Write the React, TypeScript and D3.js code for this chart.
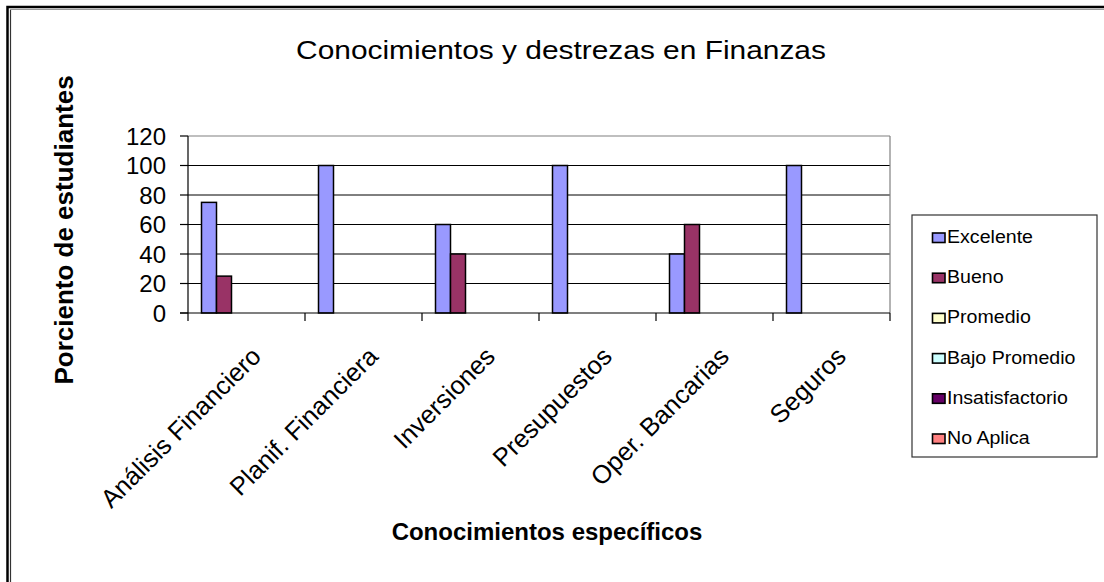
import React from "react";
import * as d3 from "d3";

const categories = [
  "Análisis Financiero",
  "Planif. Financiera",
  "Inversiones",
  "Presupuestos",
  "Oper. Bancarias",
  "Seguros",
];
const seriesNames = ["Excelente", "Bueno", "Promedio", "Bajo Promedio", "Insatisfactorio", "No Aplica"];
const seriesColors = ["#9999FF", "#993366", "#FFFFCC", "#CCFFFF", "#660066", "#FF8080"];
const excelente = [75, 100, 60, 100, 40, 100];
const bueno = [25, 0, 40, 0, 60, 0];
const promedio = [0, 0, 0, 0, 0, 0];
const bajoPromedio = [0, 0, 0, 0, 0, 0];
const insatisfactorio = [0, 0, 0, 0, 0, 0];
const noAplica = [0, 0, 0, 0, 0, 0];
const yTicks = [0, 20, 40, 60, 80, 100, 120];

const seriesValues = [excelente, bueno, promedio, bajoPromedio, insatisfactorio, noAplica];

const FONT = "'Liberation Sans', Arial, sans-serif";

export default function App() {
  const W = 1104;
  const H = 582;
  const left = 188;
  const right = 890;
  const top = 136;
  const bottom = 313;

  const x = d3.scaleBand<string>().domain(categories).range([left, right]).paddingInner(0).paddingOuter(0);
  const xs = d3.scaleBand<string>().domain(seriesNames).range([0, x.bandwidth()]).paddingInner(0).paddingOuter(0.9);
  const y = d3.scaleLinear().domain([0, 120]).range([bottom, top]);

  const boundaries = categories.map((c) => x(c) as number).concat([right]);

  return (
    <svg
      width={W}
      height={H}
      style={{ position: "absolute", left: 0, top: 0, background: "#fff" }}
      fontFamily={FONT}
    >
      <rect x={0} y={0} width={W} height={H} fill="#fff" />
      {/* outer border */}
      <rect x={7.5} y={7} width={1120} height={600} fill="none" stroke="#000" strokeWidth={2.5} />
      <line x1={10.5} y1={9.5} x2={10.5} y2={H} stroke="#333" strokeWidth={1.2} />
      <line x1={10} y1={9.5} x2={W} y2={9.5} stroke="#999" strokeWidth={1} />

      {/* title */}
      <text transform="translate(561,59) scale(1.15,1)" textAnchor="middle" fontSize={26} fill="#000">
        Conocimientos y destrezas en Finanzas
      </text>

      {/* gridlines */}
      {yTicks.filter((t) => t > 0 && t < 120).map((t) => (
        <line key={"g" + t} x1={left} x2={right} y1={y(t)} y2={y(t)} stroke="#000" strokeWidth={1} />
      ))}
      {/* plot border */}
      <line x1={left} x2={right} y1={y(120)} y2={y(120)} stroke="#808080" strokeWidth={1.2} />
      <line x1={right} x2={right} y1={top} y2={bottom} stroke="#808080" strokeWidth={1.2} />

      {/* bars */}
      {categories.map((c, ci) => (
        <g key={c} transform={`translate(${x(c)},0)`}>
          {seriesNames.map((s, si) => {
            const v = seriesValues[si][ci];
            if (!v) return null;
            return (
              <rect
                key={s}
                x={xs(s)}
                y={y(v)}
                width={xs.bandwidth()}
                height={y(0) - y(v)}
                fill={seriesColors[si]}
                stroke="#000"
                strokeWidth={1.5}
              />
            );
          })}
        </g>
      ))}

      {/* axes */}
      <line x1={left} x2={left} y1={top} y2={bottom} stroke="#000" strokeWidth={1.2} />
      <line x1={left - 8} x2={right} y1={bottom} y2={bottom} stroke="#000" strokeWidth={1.2} />
      {yTicks.map((t) => (
        <g key={"t" + t}>
          <line x1={left - 8} x2={left} y1={y(t)} y2={y(t)} stroke="#000" strokeWidth={1.2} />
          <text x={166} y={y(t)} dy="0.36em" textAnchor="end" fontSize={24} fill="#000">
            {t}
          </text>
        </g>
      ))}
      {boundaries.map((b, i) => (
        <line key={"xt" + i} x1={b} x2={b} y1={bottom} y2={bottom + 8} stroke="#000" strokeWidth={1.2} />
      ))}
      {categories.map((c) => {
        const cx = (x(c) as number) + x.bandwidth() / 2 + 16;
        const cy = bottom + 45;
        return (
          <text
            key={"l" + c}
            transform={`translate(${cx},${cy}) rotate(-45)`}
            textAnchor="end"
            fontSize={25.5}
            fill="#000"
          >
            {c}
          </text>
        );
      })}

      {/* axis titles */}
      <text x={547} y={540} textAnchor="middle" fontSize={24} fontWeight="bold" fill="#000">
        Conocimientos específicos
      </text>
      <text
        transform={`translate(73,230) rotate(-90)`}
        textAnchor="middle"
        fontSize={26}
        fontWeight="bold"
        fill="#000"
      >
        Porciento de estudiantes
      </text>

      {/* legend */}
      <rect x={912} y={215} width={185} height={242} fill="#fff" stroke="#333" strokeWidth={1.2} />
      {seriesNames.map((s, i) => {
        const by = 243 + i * 40.2;
        return (
          <g key={"lg" + s}>
            <rect x={932.5} y={by - 10} width={12.5} height={9.5} fill={seriesColors[i]} stroke="#000" strokeWidth={1.6} />
            <text transform={`translate(947,${by}) scale(1.12,1)`} fontSize={17.5} fill="#000">
              {s}
            </text>
          </g>
        );
      })}
    </svg>
  );
}
